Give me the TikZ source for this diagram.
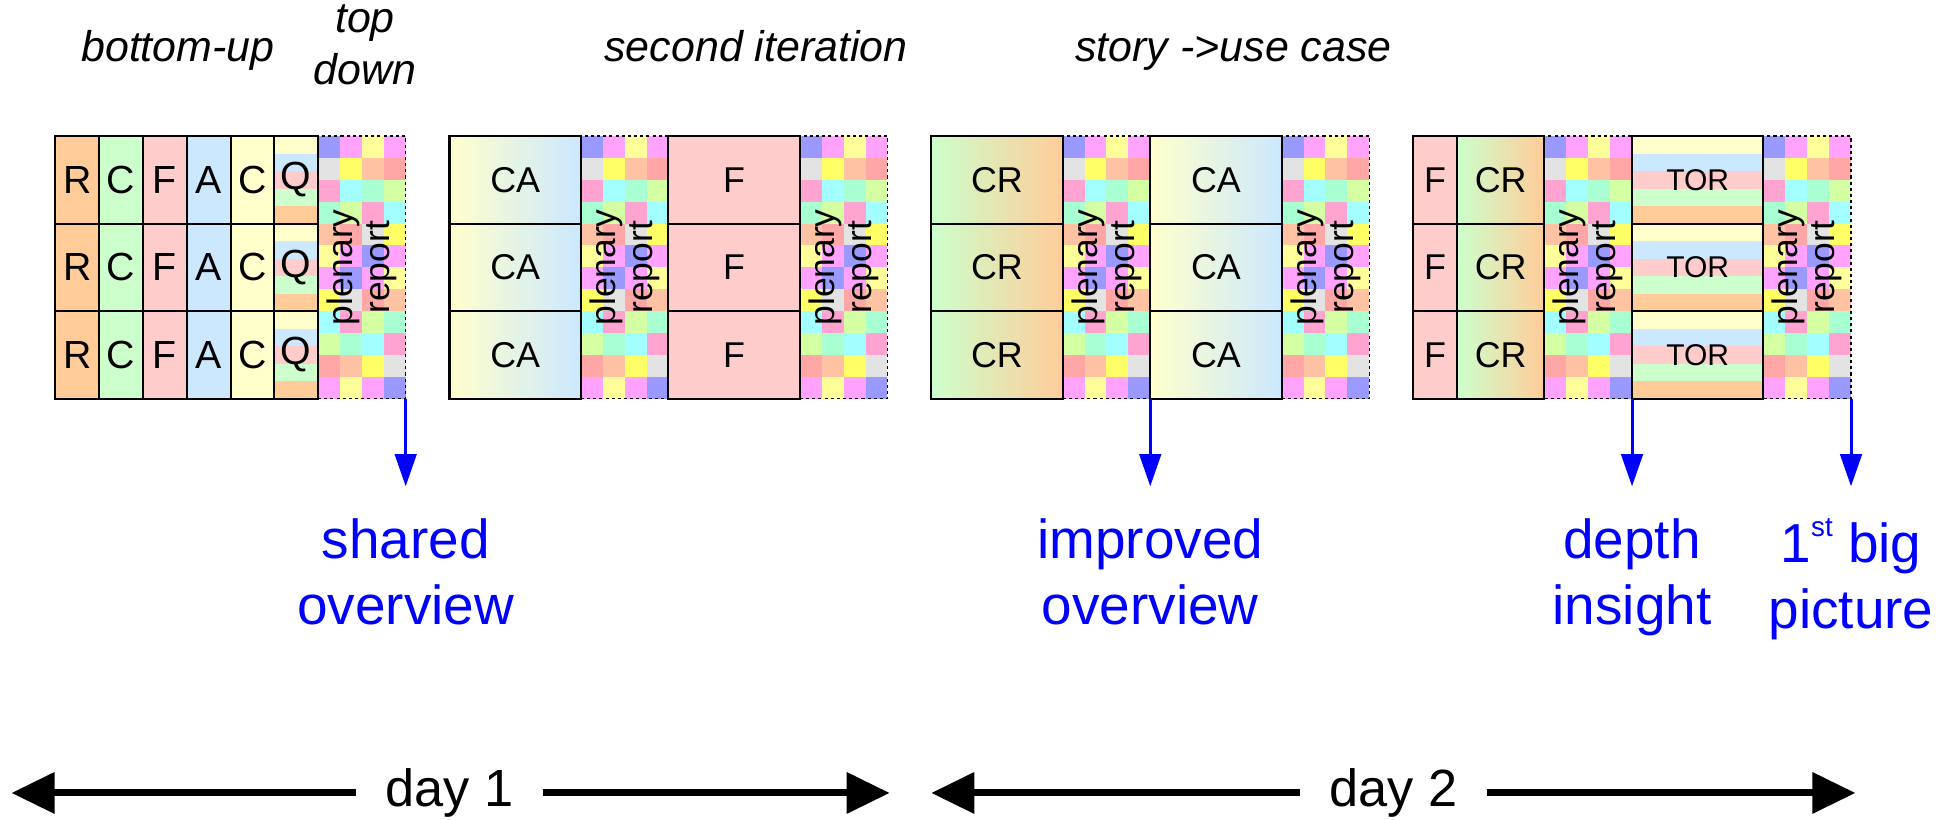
\documentclass[tikz,border=0pt]{standalone}
\usepackage{fontspec}
\setmainfont{Liberation Sans}
\usetikzlibrary{arrows.meta,positioning}

% Spaltenfarben
\definecolor{cR}{HTML}{FFCC99} \definecolor{cC}{HTML}{CCFFCC} \definecolor{cF}{HTML}{FFCCCC} \definecolor{cA}{HTML}{CCE8FF} \definecolor{cY}{HTML}{FFFFCC}
% Karos im Plenum
\definecolor{kb}{HTML}{9999FF} \definecolor{km}{HTML}{FFA3FF} \definecolor{ky}{HTML}{FFFF99} \definecolor{kg}{HTML}{E3E3E3}
\definecolor{kY}{HTML}{FFFF66} \definecolor{kp}{HTML}{FFC2A3} \definecolor{ks}{HTML}{FFA6A6} \definecolor{kk}{HTML}{FFA3D1}
\definecolor{kc}{HTML}{A3FFFF} \definecolor{kn}{HTML}{A8FFD1} \definecolor{kl}{HTML}{D4FFA3}
\definecolor{blau}{HTML}{0000FF}

\tikzset{
	cell/.style={draw,line width=1.3pt,minimum width=1cm,minimum height=2cm,inner sep=0pt,outer sep=0pt,font=\fontsize{23.3}{28}\selectfont},
	bigcell/.style={cell,font=\fontsize{25.5}{30}\selectfont},
	plenbox/.style={draw,dash pattern=on 2pt off 2pt,line width=0.9pt,minimum width=2cm,minimum height=6cm,inner sep=0pt,outer sep=0pt},
	plentext/.style={rotate=90,align=center,inner sep=0pt,font=\fontsize{23}{24}\selectfont},
	toptext/.style={inner sep=0pt,font=\fontsize{27.9}{33.8}\selectfont\itshape},
	outarrow/.style={draw=blau,line width=2pt,-{Triangle[length=21pt,width=14pt]}},
	outtext/.style={text=blau,align=center,inner sep=0pt,font=\fontsize{35.7}{42.8}\selectfont},
	dayarrow/.style={line width=4.5pt,-{Triangle[length=28pt,width=26pt]}},
	daytext/.style={inner xsep=0.66cm,inner ysep=0pt,font=\fontsize{34}{40}\selectfont}
}

% Plenum: #1 = linker Rand, #2 = Name
\newcommand{\plenum}[2]{%
	\foreach \zeile [count=\j from 0] in {{kb,km,ky,km},{kg,kY,kp,ks},{kk,kc,kn,kl},{kn,kl,kk,kc},{kp,ks,kg,kY},{ky,km,kb,km},{km,kb,km,ky},{kY,kg,ks,kp},{kc,kk,kl,kn},{kl,kn,kc,kk},{ks,kp,kY,kg},{km,ky,km,kb}}
		\foreach \k [count=\i from 0] in \zeile \fill[\k] (#1+0.5*\i,-0.5*\j) rectangle ++(0.5,-0.5);
	\node[plenbox] (#2) at (#1+1,-3) {};
	\node[plentext] (#2t) at (#2) {plenary\\report};
}
% Streifen: #1 = linker Rand, #2 = Breite
\newcommand{\streifen}[2]{%
	\foreach \r in {0,1,2} \foreach \farbe [count=\st from 0] in {cY,cA,cF,cC,cR} \fill[\farbe] (#1,-2*\r-0.4*\st) rectangle ++(#2,-0.4);
}

\begin{document}
\begin{tikzpicture}
	%\draw[help lines] (-1,3) grid (43,-15); %Raster
	\useasboundingbox (-1.263,3.105) rectangle (43.26,-15.616);
	
	\node[toptext,anchor=base] (bu) at (2.80,1.69) {bottom-up}; \node[toptext,anchor=south,align=center] (td) at (7.07,1.16) {top\\down};
	\node[toptext,anchor=base] (si) at (16,1.70) {second iteration}; \node[toptext,anchor=base] (su) at (26.9,1.70) {story ->use case};
	
	\plenum{6}{pa} \plenum{12}{pb} \plenum{17}{pc} \plenum{23}{pd} \plenum{28}{pe} \plenum{34}{pf} \plenum{39}{pg}
	\streifen{5}{1} \streifen{36}{3}
	
	% Tag 1
	\foreach \lab/\farbe [count=\i from 0] in {R/cR,C/cC,F/cF,A/cA,C/cY} \foreach \r in {0,1,2} \node[bigcell,fill=\farbe] (a\i\r) at (\i+0.5,-2*\r-1) {\lab};
	\foreach \r in {0,1,2} {
		\node[bigcell] (q\r) at (5.5,-2*\r-1) {Q};
		\node[cell,minimum width=3cm,left color=cY,right color=cA] (ca\r) at (10.5,-2*\r-1) {CA}; \node[cell,minimum width=3cm,fill=cF] (f\r) at (15.5,-2*\r-1) {F};
	}
	% Tag 2
	\foreach \r in {0,1,2} {
		\node[cell,minimum width=3cm,left color=cC,right color=cR] (cr\r) at (21.5,-2*\r-1) {CR}; \node[cell,minimum width=3cm,left color=cY,right color=cA] (cb\r) at (26.5,-2*\r-1) {CA};
		\node[cell,fill=cF] (g\r) at (31.5,-2*\r-1) {F}; \node[cell,minimum width=2cm,left color=cC,right color=cR] (cs\r) at (33,-2*\r-1) {CR};
		\node[cell,minimum width=3cm,font=\fontsize{19.5}{24}\selectfont] (tor\r) at (37.5,-2*\r-1) {TOR};
	}
	
	\coordinate (o1) at (8,-8); \coordinate (o2) at (25,-8); \coordinate (o3) at (36,-8); \coordinate (o4) at (41,-8);
	\draw[outarrow] (pa.south east) -- (o1); \draw[outarrow] (pd.south east) -- (o2); \draw[outarrow] (pf.south east) -- (o3); \draw[outarrow] (pg.south east) -- (o4);
	\node[outtext,below=0.73cm of o1] (l1) {shared\\overview}; \node[outtext,below=0.73cm of o2] (l2) {improved\\overview};
	\node[outtext,below=0.73cm of o3] (l3) {depth\\insight}; \node[outtext,below=0.73cm of o4] (l4) {1\raisebox{17pt}{\fontsize{18}{18}\selectfont st} big\\picture};
	
	\node[daytext] (d1) at (9,-15) {day 1}; \coordinate (d1l) at (-1,-15); \coordinate (d1r) at (19.05,-15);
	\draw[dayarrow] (d1) -- (d1l); \draw[dayarrow] (d1) -- (d1r);
	\node[daytext] (d2) at (30.55,-15) {day 2}; \coordinate (d2l) at (20.0,-15); \coordinate (d2r) at (41.1,-15);
	\draw[dayarrow] (d2) -- (d2l); \draw[dayarrow] (d2) -- (d2r);
\end{tikzpicture}
\end{document}
